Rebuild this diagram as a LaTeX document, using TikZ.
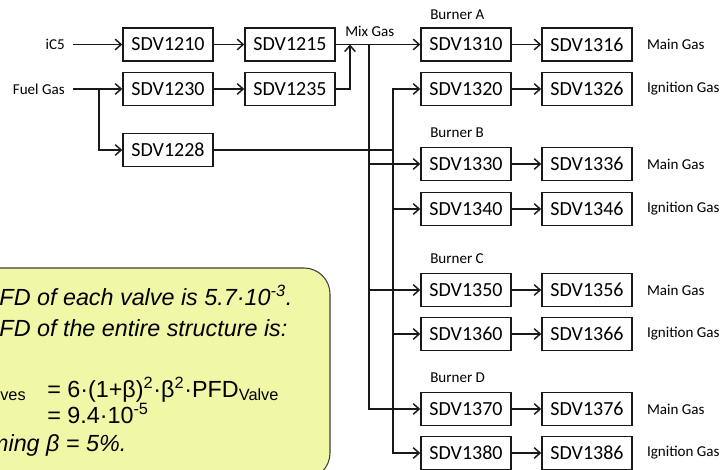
\documentclass[tikz,border=0pt]{standalone}
\usepackage{fontspec}
\setmainfont{Carlito}
\newfontfamily\notafont{Liberation Sans}
\usetikzlibrary{arrows.meta,positioning}
\definecolor{notafondo}{RGB}{240,247,166}
\definecolor{linea}{RGB}{25,25,25}

\tikzset{
    valvula/.style={draw=linea, line width=1.1pt, minimum width=67.5pt,
        minimum height=24.75pt, inner sep=0pt, font=\fontsize{15}{18}\selectfont},
    etiqueta/.style={font=\fontsize{11.3}{13}\selectfont, inner sep=0pt},
    flujo/.style={draw=linea, line width=1.1pt, -{Straight Barb[length=4.5pt,width=8pt]}},
    tubo/.style={draw=linea, line width=1.1pt},
    nota/.style={font=\notafont\fontsize{17.5}{21}\selectfont, inner sep=0pt, anchor=base west},
}

\begin{document}
\begin{tikzpicture}[x=0.75pt,y=-0.75pt]
    \useasboundingbox (0,0) rectangle (723,470);

    % Recuadro con el calculo
    \draw[draw=black!75, fill=notafondo, line width=0.8pt, rounded corners=19.5pt]
        (-120,268) rectangle (330,479);
    \node[nota] (linea1) at (-63,305) {\itshape The PFD of each valve is 5.7·10\textsuperscript{-3}.};
    \node[nota] (linea2) at (-63,336) {\itshape The PFD of the entire structure is:};
    \node[nota] (linea3) at (-69,397) {PFD\textsubscript{Valves}};
    \node[nota] (linea3b) at (47,397) {= 6·(1+β)\textsuperscript{2}·β\textsuperscript{2}·PFD\textsubscript{Valve}};
    \node[nota] (linea4) at (47,423) {= 9.4·10\textsuperscript{-5}};
    \node[nota] (linea5) at (-63,451) {\itshape Assuming β = 5\%.};

    % Entradas
    \node[etiqueta, anchor=east] (ic5)  at (65,44.5) {iC5};
    \node[etiqueta, anchor=east] (fuel) at (65,89)   {Fuel Gas};

    \node[valvula] (sdv1210) at (168,44.5) {SDV1210};
    \node[valvula] (sdv1215) at (290,44.5) {SDV1215};
    \node[valvula] (sdv1230) at (168,89)   {SDV1230};
    \node[valvula] (sdv1235) at (290,89)   {SDV1235};
    \node[valvula] (sdv1228) at (168,150)  {SDV1228};

    \draw[flujo, shorten <=6pt] (ic5.east) -- (sdv1210.west);
    \draw[flujo, shorten <=6pt] (fuel.east) -- (sdv1230.west);
    \coordinate (fgsplit) at (99,89);
    \draw[flujo] (fgsplit) |- (sdv1228.west);
    \draw[flujo] (sdv1210) -- (sdv1215);
    \draw[flujo] (sdv1230) -- (sdv1235);

    % Quemadores
    \foreach \a/\b/\y in {1310/1316/44.5, 1320/1326/89, 1330/1336/164, 1340/1346/209,
                          1350/1356/290, 1360/1366/334, 1370/1376/409, 1380/1386/453} {
        \node[valvula] (sdv\a) at (466,\y) {SDV\a};
        \node[valvula] (sdv\b) at (587,\y) {SDV\b};
        \draw[flujo] (sdv\a) -- (sdv\b);
    }
    \foreach \b/\t in {1316/Main Gas, 1326/Ignition Gas, 1336/Main Gas, 1346/Ignition Gas,
                       1356/Main Gas, 1366/Ignition Gas, 1376/Main Gas, 1386/Ignition Gas} {
        \node[etiqueta, right=10.5pt of sdv\b] (gas\b) {\t};
    }
    \node[etiqueta, anchor=west] (burnerA) at (430,15)  {Burner A};
    \node[etiqueta, anchor=west] (burnerB) at (430,133) {Burner B};
    \node[etiqueta, anchor=west] (burnerC) at (430,259) {Burner C};
    \node[etiqueta, anchor=west] (burnerD) at (430,378) {Burner D};

    % Mezcla
    \node[etiqueta, anchor=west] (mixgas) at (345,31) {Mix Gas};
    \coordinate (mixjoin) at (350,44.5);
    \draw[flujo] (sdv1215.east) -- (sdv1310.west);
    \draw[flujo] (sdv1235.east) -| (mixjoin);
    \coordinate (mixbus) at (369,44.5);
    \draw[flujo] (mixbus) |- (sdv1370.west);
    \foreach \a in {1330,1350} {
        \draw[flujo] (mixbus |- sdv\a.west) -- (sdv\a.west);
    }

    % Gas de ignicion
    \coordinate (fgbus) at (393,150);
    \draw[tubo] (sdv1228.east) -- (fgbus);
    \draw[flujo] (fgbus) |- (sdv1320.west);
    \draw[flujo] (fgbus) |- (sdv1380.west);
    \foreach \a in {1340,1360} {
        \draw[flujo] (fgbus |- sdv\a.west) -- (sdv\a.west);
    }
\end{tikzpicture}
\end{document}
